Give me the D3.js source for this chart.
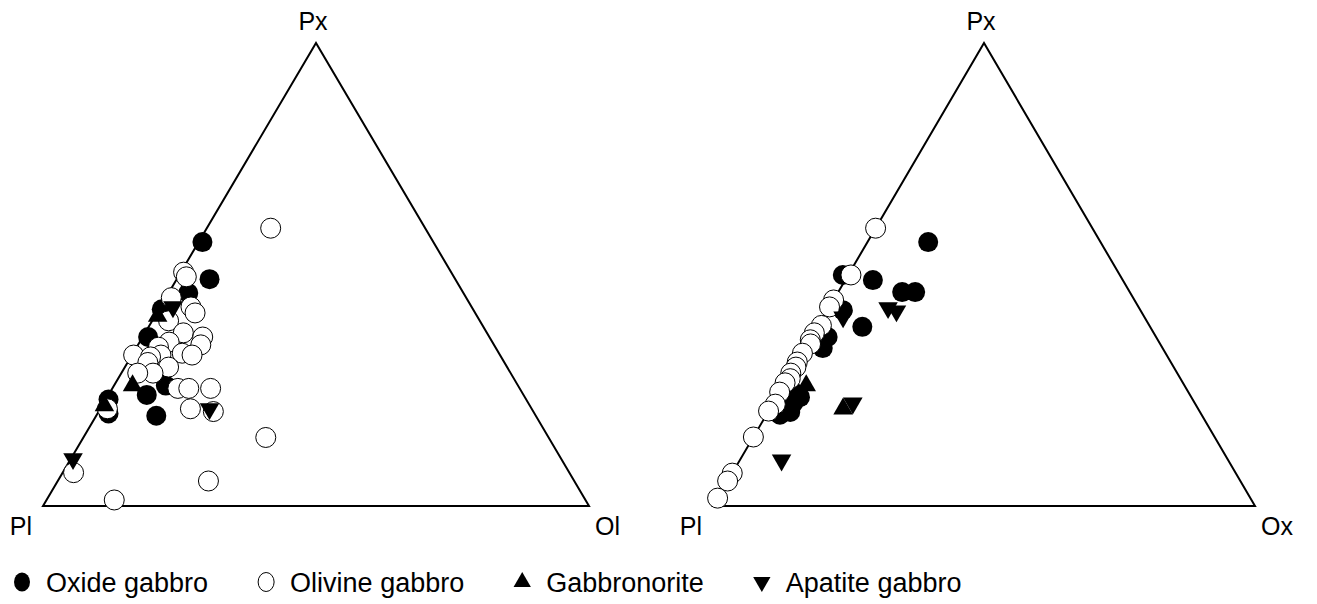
<!DOCTYPE html>
<html>
<head>
<meta charset="utf-8">
<script src="https://cdnjs.cloudflare.com/ajax/libs/d3/7.8.5/d3.min.js"></script>
<style>
  body { margin: 0; background: #fff; }
  text { font-family: "Liberation Sans", Arial, Helvetica, sans-serif; fill: #000; }
</style>
</head>
<body>
<div id="chart"></div>
<script>
// ternary values: [Px %, Ol % (or Ox %)], Pl is the rest

// left diagram Pl - Px - Ol
var leftOxide = [[57, 0.7], [49, 6], [46, 3.6], [42.5, 0.5], [36.5, 1], [26, 9.5], [24, 7], [19.5, 11], [23, 0.5], [20, 2]];
var leftOlivine = [[60, 11.7], [50.5, 0.5], [49.5, 1.5], [45, 1], [43, 5.6], [41.7, 7], [40, 3], [37.4, 7], [36.5, 11],
  [34.8, 11.5], [35.4, 5.4], [34.3, 4], [32.6, 5.3], [32.6, 0.3], [32.2, 3.6], [31, 3.7], [33, 9], [32.6, 11], [30, 8],
  [28.7, 5.8], [28.7, 3], [25.4, 12], [25.4, 14], [25.4, 18], [21, 16.5], [20.4, 21], [14.8, 33.4], [7.2, 2],
  [5.4, 27.6], [1.3, 12.4], [21, 1.3]];
var leftGabbronorite = [[41, 0.5], [26, 3.4], [21.7, 0.4]];
var leftApatite = [[43, 2.3], [21, 20], [10.2, 0.4]];

// right diagram Pl - Px - Ox
var rightOxide = [[57, 11.2], [49.9, -1], [48.8, 5.1], [46.2, 11.8], [46.2, 14.2], [38.7, 8.2], [42.3, 2.8], [36.5, 2.9],
  [34.1, 3.2], [23.5, 4.3], [22.2, 3.7], [22.9, 1.8], [20.3, 4.1], [19.7, 2.5], [24.4, 2.9]];
var rightOlivine = [[60, 0], [49.9, 0.5], [44.5, 0], [43, 0], [39, 0.5], [37.4, 0], [35.9, 0], [35, 0.5], [33, 0],
  [31.1, 0], [30, 0.3], [28.7, 0], [27.5, 0.5], [26.6, 0], [24.6, 0], [22, 0.5], [20.5, 0], [14.9, 0], [7.1, 0],
  [5.4, 0], [1.7, 0]];
var rightGabbronorite = [[26, 4.2], [21, 13.5]];
var rightApatite = [[40.8, 3.6], [42.8, 10.9], [42.1, 12.8], [22.2, 14.7], [9.9, 7.7]];

var legendLabels = ["Oxide gabbro", "Olivine gabbro", "Gabbronorite", "Apatite gabbro"];

var width = 1317, height = 604;

var svg = d3.select("#chart").append("svg")
  .attr("width", width)
  .attr("height", height);

var tri = d3.symbol().type(d3.symbolTriangle).size(165);

function drawTernary(g, left, right, labels, series) {
  var x = d3.scaleLinear().domain([0, 100]).range([left, right]);
  var y = d3.scaleLinear().domain([0, 100]).range([506, 43]);

  // px at top, second component to the right
  var px = function (d) { return x(d[1] + d[0] / 2); };
  var py = function (d) { return y(d[0]); };

  var corners = [[0, 0], [100, 0], [0, 100]];
  g.append("path")
    .attr("d", d3.line().x(px).y(py)(corners) + "Z")
    .attr("fill", "none")
    .attr("stroke", "#000")
    .attr("stroke-width", 2)
    .attr("stroke-linejoin", "miter");

  // corner labels
  g.append("text").attr("x", x(0) - 11).attr("y", 535)
    .attr("text-anchor", "end").style("font-size", "25px").text("Pl");
  g.append("text").attr("x", x(100) + 6).attr("y", 535)
    .style("font-size", "25px").text(labels[1]);
  g.append("text").attr("x", x(50) - 3).attr("y", 30)
    .attr("text-anchor", "middle").style("font-size", "25px").text("Px");

  g.append("g").selectAll("circle")
    .data(series.oxide)
    .enter().append("circle")
    .attr("cx", px).attr("cy", py).attr("r", 10)
    .attr("fill", "#000");

  g.append("g").selectAll("circle")
    .data(series.olivine)
    .enter().append("circle")
    .attr("cx", px).attr("cy", py).attr("r", 10)
    .attr("fill", "#fff").attr("stroke", "#000").attr("stroke-width", 1);

  g.append("g").selectAll("path")
    .data(series.gabbronorite)
    .enter().append("path")
    .attr("d", tri)
    .attr("transform", function (d) { return "translate(" + px(d) + "," + py(d) + ")"; })
    .attr("fill", "#000");

  g.append("g").selectAll("path")
    .data(series.apatite)
    .enter().append("path")
    .attr("d", tri)
    .attr("transform", function (d) { return "translate(" + px(d) + "," + py(d) + ") rotate(180)"; })
    .attr("fill", "#000");
}

drawTernary(svg.append("g"), 43, 589, ["Pl", "Ol"],
  { oxide: leftOxide, olivine: leftOlivine, gabbronorite: leftGabbronorite, apatite: leftApatite });
drawTernary(svg.append("g"), 713, 1255, ["Pl", "Ox"],
  { oxide: rightOxide, olivine: rightOlivine, gabbronorite: rightGabbronorite, apatite: rightApatite });

// legend
var legend = svg.append("g").attr("transform", "translate(0,592)");
var lx = 22;
legendLabels.forEach(function (label, i) {
  var item = legend.append("g");
  if (i === 0) {
    item.append("ellipse").attr("cx", lx).attr("cy", -10).attr("rx", 8).attr("ry", 9.5).attr("fill", "#000");
  } else if (i === 1) {
    item.append("ellipse").attr("cx", lx).attr("cy", -10).attr("rx", 8).attr("ry", 9.5)
      .attr("fill", "#fff").attr("stroke", "#000").attr("stroke-width", 1);
  } else {
    item.append("path")
      .attr("d", d3.symbol().type(d3.symbolTriangle).size(130))
      .attr("transform", "translate(" + lx + ",-10)" + (i === 3 ? " rotate(180)" : ""))
      .attr("fill", "#000");
  }
  var t = item.append("text").attr("x", lx + 24).attr("y", 0)
    .style("font-size", "27px").text(label);
  lx += 24 + t.node().getComputedTextLength() + 58;
});
</script>
</body>
</html>
